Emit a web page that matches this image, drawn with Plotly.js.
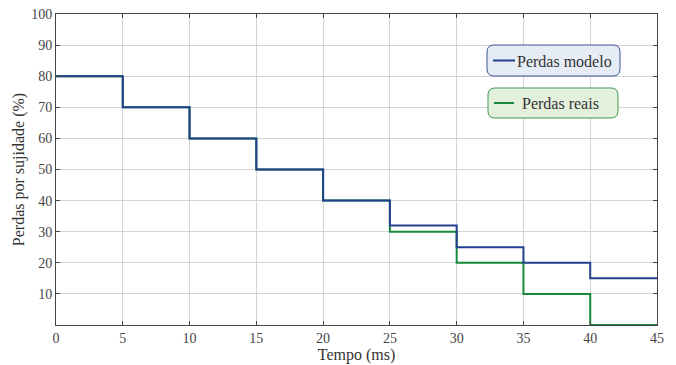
<!DOCTYPE html>
<html><head><meta charset="utf-8">
<script src="https://cdn.plot.ly/plotly-3.0.1.min.js"></script>
<style>html,body{margin:0;padding:0;background:#fff}</style>
</head><body><div id="chart" style="width:676px;height:365px"></div>
<script>
const tempo = [0, 5, 10, 15, 20, 25, 30, 35, 40, 45];
const perdasModelo = [80, 70, 60, 50, 40, 32, 25, 20, 15, 15];
const perdasReais = [80, 70, 60, 50, 40, 30, 20, 10, 0, 0];
const xTicks = [0, 5, 10, 15, 20, 25, 30, 35, 40, 45];
const yTicks = [10, 20, 30, 40, 50, 60, 70, 80, 90, 100];

const FONT = 'Liberation Serif';
const blue = '#23408e', green = '#17893a';
const traces = [
  {x: tempo, y: perdasReais, name: 'Perdas reais', mode: 'lines', line: {shape: 'hv', color: green, width: 2}, showlegend: false},
  {x: tempo, y: perdasModelo, name: 'Perdas modelo', mode: 'lines', line: {shape: 'hv', color: blue, width: 2}, showlegend: false}
];
const L = 56, R = 657, T = 14, B = 325;
const px = v => (v - L) / (R - L), py = v => (B - v) / (B - T);
function rrPaper(x0, y0, x1, y1, r) {
  const X = v => px(v).toFixed(5), Y = v => py(v).toFixed(5);
  return `M${X(x0+r)},${Y(y0)} L${X(x1-r)},${Y(y0)} Q${X(x1)},${Y(y0)} ${X(x1)},${Y(y0+r)} L${X(x1)},${Y(y1-r)} Q${X(x1)},${Y(y1)} ${X(x1-r)},${Y(y1)} L${X(x0+r)},${Y(y1)} Q${X(x0)},${Y(y1)} ${X(x0)},${Y(y1-r)} L${X(x0)},${Y(y0+r)} Q${X(x0)},${Y(y0)} ${X(x0+r)},${Y(y0)} Z`;
}
const shapes = [
  {type: 'path', xref: 'paper', yref: 'paper', path: rrPaper(487, 45, 620, 76, 7), fillcolor: '#e5ecf5', line: {color: '#3c5592', width: 1}, layer: 'above'},
  {type: 'path', xref: 'paper', yref: 'paper', path: rrPaper(488, 88, 618, 118, 7), fillcolor: '#e3f0dc', line: {color: '#3f9a55', width: 1}, layer: 'above'},
  {type: 'line', xref: 'paper', yref: 'paper', x0: px(493), x1: px(515), y0: py(60.5), y1: py(60.5), line: {color: blue, width: 2}, layer: 'above'},
  {type: 'line', xref: 'paper', yref: 'paper', x0: px(494), x1: px(514), y0: py(103), y1: py(103), line: {color: green, width: 2}, layer: 'above'}
];
const annotations = [
  {xref: 'paper', yref: 'paper', x: px(515), y: py(61), xanchor: 'left', yanchor: 'middle', text: 'Perdas modelo', showarrow: false, font: {family: FONT, size: 16, color: '#333'}},
  {xref: 'paper', yref: 'paper', x: px(520), y: py(103.5), xanchor: 'left', yanchor: 'middle', text: 'Perdas reais', showarrow: false, font: {family: FONT, size: 16, color: '#333'}}
];
const axisCommon = {
  showline: true, linecolor: '#444', linewidth: 1, mirror: 'ticks',
  ticks: 'inside', ticklen: 4, tickcolor: '#444',
  showgrid: true, gridcolor: '#d4d4d4', gridwidth: 1, zeroline: false,
  tickfont: {family: FONT, size: 14, color: '#444'}
};
const layout = {
  width: 676, height: 365,
  font: {family: FONT},
  margin: {l: 56, r: 19, t: 14, b: 40},
  paper_bgcolor: '#fff', plot_bgcolor: '#fff',
  xaxis: Object.assign({}, axisCommon, {range: [0, 45], tickvals: xTicks, ticktext: xTicks.map(String),
    title: {text: 'Tempo (ms)', font: {family: FONT, size: 16, color: '#333'}, standoff: 2}}),
  yaxis: Object.assign({}, axisCommon, {range: [0, 100], tickvals: yTicks, ticktext: yTicks.map(String),
    title: {text: 'Perdas por sujidade (%)', font: {family: FONT, size: 16, color: '#333'}, standoff: 2}}),
  shapes: shapes, annotations: annotations, showlegend: false
};
Plotly.newPlot('chart', traces, layout, {displayModeBar: false});
</script></body></html>
